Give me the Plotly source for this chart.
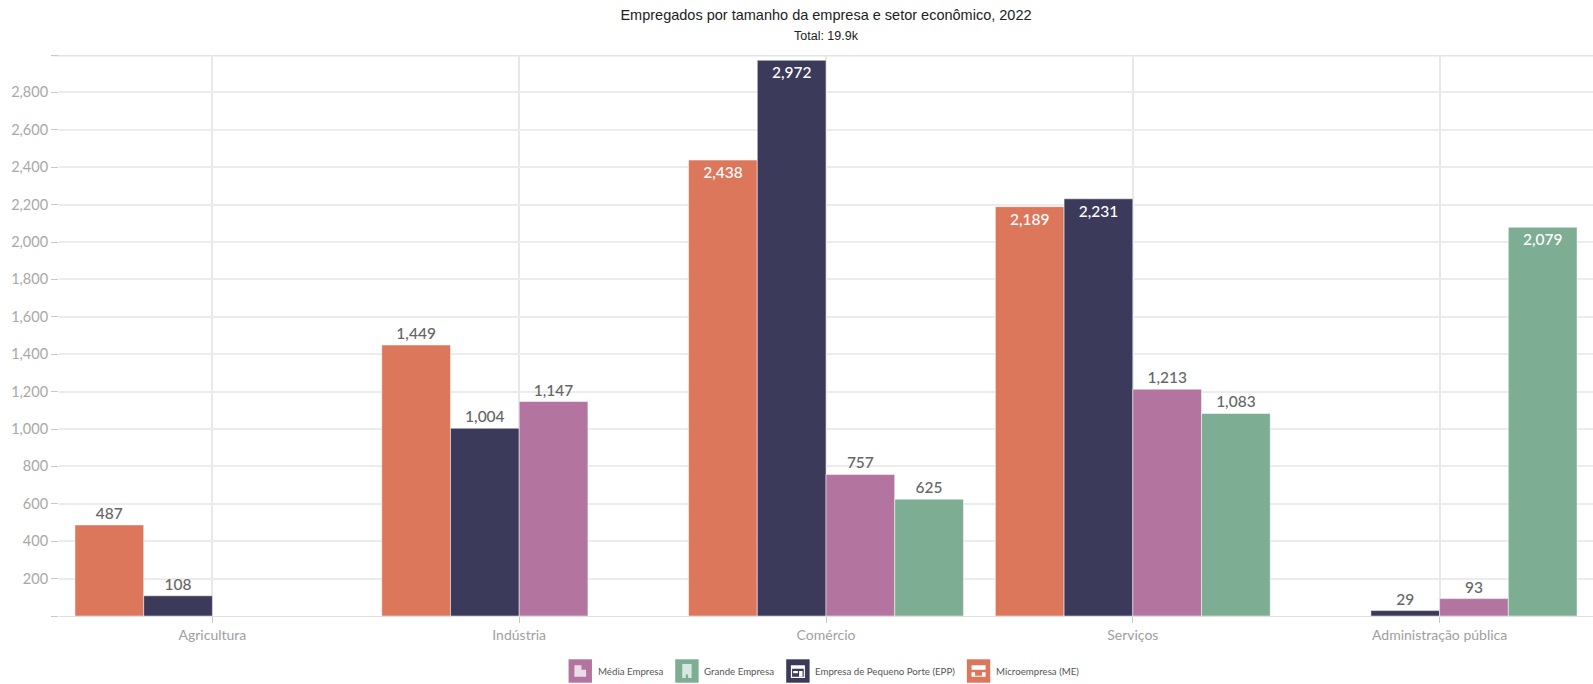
import urllib.parse
import plotly.graph_objects as go

categories = ["Agricultura", "Indústria", "Comércio", "Serviços", "Administração pública"]
micro = [487, 1449, 2438, 2189, None]
epp = [108, 1004, 2972, 2231, 29]
media = [None, 1147, 757, 1213, 93]
grande = [None, None, 625, 1083, 2079]
tick_values = [0, 200, 400, 600, 800, 1000, 1200, 1400, 1600, 1800, 2000, 2200, 2400, 2600, 2800, 3000]
tick_labels = ["", "200", "400", "600", "800", "1,000", "1,200", "1,400", "1,600", "1,800", "2,000",
               "2,200", "2,400", "2,600", "2,800", ""]
inside_from = 2000

COL_MICRO, COL_EPP, COL_MEDIA, COL_GRANDE = "#DC775C", "#3C3A5A", "#B3749F", "#7DAD93"
series = [
    ("Microempresa (ME)", micro, COL_MICRO),
    ("Empresa de Pequeno Porte (EPP)", epp, COL_EPP),
    ("Média Empresa", media, COL_MEDIA),
    ("Grande Empresa", grande, COL_GRANDE),
]

W, H = 1593, 684
L, R, T, B = 58.6, 0, 55, 68
PW, PH = W - L - R, H - T - B
FONT = "Lato, 'Open Sans', sans-serif"
TITLE_FONT = "'Liberation Sans', Arial, sans-serif"

def px(x):
    return (x - L) / PW

def py(y):
    return (H - B - y) / PH

fig = go.Figure()
for name, vals, color in series:
    fig.add_trace(go.Bar(
        x=categories, y=vals, name=name, showlegend=False,
        marker=dict(color=color, line=dict(color="#ffffff", width=0.5)),
        text=[None if v is None else f"{v:,}" for v in vals],
        textposition=["inside" if v is not None and v >= inside_from else "outside" for v in vals],
        insidetextanchor="end",
        textangle=0,
        textfont=dict(family=FONT, size=15.5, weight=500,
                      color=["#ffffff" if v is not None and v >= inside_from else "#666666" for v in vals]),
        cliponaxis=False,
    ))

fig.update_layout(
    width=W, height=H, autosize=False,
    margin=dict(l=L, r=R, t=T, b=B, pad=0),
    paper_bgcolor="#ffffff", plot_bgcolor="#ffffff",
    barmode="group", bargap=0.104, bargroupgap=0,
    showlegend=False,
    font=dict(family=FONT, color="#888888"),
    title=dict(
        text="Empregados por tamanho da empresa e setor econômico, 2022",
        font=dict(family=TITLE_FONT, size=14.5, color="#222222"),
        x=826 / W, xanchor="center", y=1 - 10 / H, yanchor="top",
    ),
    xaxis=dict(type="category", range=[-0.5, 4.5], showgrid=True, gridcolor="#e8e8e8", gridwidth=1.5,
               ticks="outside", ticklen=6, tickcolor="#c8c8c8", tickwidth=1,
               tickfont=dict(family=FONT, size=14, color="#a0a0a0"),
               showline=True, linecolor="#e0e0e0", linewidth=1, zeroline=False),
    yaxis=dict(range=[0, 3000], tickmode="array", tickvals=tick_values, ticktext=tick_labels,
               showgrid=True, gridcolor="#ececec", gridwidth=1.5,
               ticks="outside", ticklen=7, tickcolor="#c8c8c8", tickwidth=1,
               tickfont=dict(family=FONT, size=14.5, color="#a8a8a8"),
               showline=False, zeroline=False),
)
fig.add_annotation(text="Total: 19.9k", xref="paper", yref="paper", x=px(826), y=py(36),
                   xanchor="center", yanchor="middle", showarrow=False,
                   font=dict(family=TITLE_FONT, size=12.5, color="#222222"))
fig.add_shape(type="line", xref="paper", yref="y", x0=px(52), x1=1, y0=3000, y1=3000,
              line=dict(color="#e3e3e3", width=3), layer="below")

def svg_uri(body):
    svg = f"<svg xmlns='http://www.w3.org/2000/svg' width='40' height='40' viewBox='0 0 20 20'>{body}</svg>"
    return "data:image/svg+xml," + urllib.parse.quote(svg)

legend_items = [
    ("Média Empresa", COL_MEDIA, 568.3, 596,
     "<path fill='#fff' fill-opacity='.75' d='M5 5h6v10H5zM11 9h4v6h-4z'/>"),
    ("Grande Empresa", COL_GRANDE, 675, 701.7,
     "<path fill='#fff' fill-opacity='.7' d='M6 4h8v12H6z'/><path fill='#7DAD93' d='M9 13h2v3H9z'/>"),
    ("Empresa de Pequeno Porte (EPP)", COL_EPP, 786, 812.7,
     "<path fill='#fff' d='M4 5h12v11H4z'/><path fill='#3C3A5A' d='M5 8h10v7H5z'/><path fill='#fff' d='M11 10h3v5h-3zM6 10h4v2H6z'/>"),
    ("Microempresa (ME)", COL_MICRO, 966.7, 994,
     "<path fill='#fff' d='M4 5h12v4H4zM4 11h3v4H4zM13 11h3v4h-3zM4 14h12v1H4z'/>"),
]
LEG_Y, SW = 671, 23.4
for name, color, sx, tx, icon in legend_items:
    fig.add_shape(type="rect", xref="paper", yref="paper", x0=px(sx), x1=px(sx + SW),
                  y0=py(LEG_Y - SW / 2), y1=py(LEG_Y + SW / 2),
                  fillcolor=color, line=dict(width=0), layer="below")
    fig.add_layout_image(dict(source=svg_uri(icon), xref="paper", yref="paper",
                              x=px(sx + SW / 2), y=py(LEG_Y), sizex=SW / PW, sizey=SW / PH,
                              xanchor="center", yanchor="middle", layer="above"))
    fig.add_annotation(text=name, xref="paper", yref="paper", x=px(tx), y=py(LEG_Y),
                       xanchor="left", yanchor="middle", showarrow=False,
                       font=dict(family=FONT, size=9.7, color="#555555"))

fig.write_html("out.html", config={"displayModeBar": False},
               post_script="document.body.style.margin='0';")
